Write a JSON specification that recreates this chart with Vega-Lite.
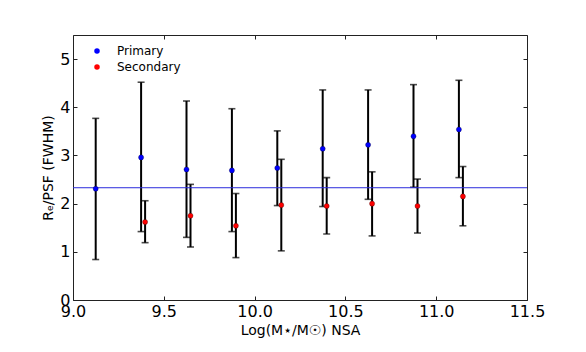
{
  "$schema": "https://vega.github.io/schema/vega-lite/v6.json",
  "width": 454,
  "height": 265,
  "autosize": "none",
  "padding": {"left": 73, "top": 35, "right": 59, "bottom": 52},
  "background": "white",
  "config": {
    "view": {"stroke": "#222222", "strokeWidth": 1},
    "font": "DejaVu Sans",
    "axis": {
      "grid": false,
      "domain": false,
      "tickColor": "#222222",
      "tickSize": -4,
      "labelFlush": false,
      "labelColor": "#000000",
      "labelFont": "DejaVu Sans",
      "labelFontSize": 16,
      "titleFont": "DejaVu Sans",
      "titleFontSize": 14,
      "titleFontWeight": "normal",
      "titleColor": "#000000"
    }
  },
  "data": {
    "values": [
      {"x": 9.125, "y": 2.31, "lo": 0.84, "hi": 3.77, "group": "Primary"},
      {"x": 9.375, "y": 2.96, "lo": 1.42, "hi": 4.52, "group": "Primary"},
      {"x": 9.625, "y": 2.71, "lo": 1.30, "hi": 4.13, "group": "Primary"},
      {"x": 9.875, "y": 2.69, "lo": 1.42, "hi": 3.97, "group": "Primary"},
      {"x": 10.125, "y": 2.74, "lo": 1.96, "hi": 3.51, "group": "Primary"},
      {"x": 10.375, "y": 3.14, "lo": 1.94, "hi": 4.36, "group": "Primary"},
      {"x": 10.625, "y": 3.22, "lo": 2.09, "hi": 4.36, "group": "Primary"},
      {"x": 10.875, "y": 3.40, "lo": 2.34, "hi": 4.47, "group": "Primary"},
      {"x": 11.125, "y": 3.54, "lo": 2.54, "hi": 4.56, "group": "Primary"},
      {"x": 9.397, "y": 1.62, "lo": 1.19, "hi": 2.06, "group": "Secondary"},
      {"x": 9.647, "y": 1.75, "lo": 1.10, "hi": 2.40, "group": "Secondary"},
      {"x": 9.897, "y": 1.54, "lo": 0.88, "hi": 2.21, "group": "Secondary"},
      {"x": 10.147, "y": 1.97, "lo": 1.02, "hi": 2.92, "group": "Secondary"},
      {"x": 10.397, "y": 1.95, "lo": 1.37, "hi": 2.54, "group": "Secondary"},
      {"x": 10.647, "y": 2.00, "lo": 1.33, "hi": 2.66, "group": "Secondary"},
      {"x": 10.897, "y": 1.95, "lo": 1.39, "hi": 2.51, "group": "Secondary"},
      {"x": 11.147, "y": 2.15, "lo": 1.54, "hi": 2.77, "group": "Secondary"}
    ]
  },
  "resolve": {"axis": {"x": "independent", "y": "independent"}},
  "layer": [
    {
      "layer": [
        {
          "mark": {"type": "rule", "color": "#000000", "strokeWidth": 2},
          "encoding": {
            "x": {
              "field": "x",
              "type": "quantitative",
              "scale": {"domain": [9, 11.5], "nice": false, "zero": false},
              "axis": {"values": [9, 9.5, 10, 10.5, 11, 11.5], "format": ".1f", "title": "Log(M⋆/M☉) NSA", "labelPadding": 7, "titlePadding": 4}
            },
            "y": {"field": "lo", "type": "quantitative", "scale": {"domain": [0, 5.5], "nice": false}, "axis": {"values": [0, 1, 2, 3, 4, 5], "format": "d", "title": "Rₑ/PSF (FWHM)", "labelPadding": 7, "titlePadding": 4}},
            "y2": {"field": "hi"}
          }
        },
        {
          "mark": {"type": "tick", "orient": "horizontal", "color": "#000000", "size": 7, "thickness": 1.6},
          "encoding": {"x": {"field": "x", "type": "quantitative"}, "y": {"field": "hi", "type": "quantitative"}}
        },
        {
          "mark": {"type": "tick", "orient": "horizontal", "color": "#000000", "size": 7, "thickness": 1.6},
          "encoding": {"x": {"field": "x", "type": "quantitative"}, "y": {"field": "lo", "type": "quantitative"}}
        },
        {
          "data": {"values": [{"level": 2.33}]},
          "mark": {"type": "rule", "color": "#2b2bdc", "strokeWidth": 1},
          "encoding": {"y": {"field": "level", "type": "quantitative"}, "x": {"value": 0}, "x2": {"value": 454}}
        },
        {
          "mark": {"type": "point", "filled": true, "size": 26, "opacity": 1, "stroke": "#000000", "strokeWidth": 0.3},
          "encoding": {
            "x": {"field": "x", "type": "quantitative"},
            "y": {"field": "y", "type": "quantitative"},
            "color": {
              "field": "group",
              "type": "nominal",
              "scale": {"domain": ["Primary", "Secondary"], "range": ["#0000ff", "#ff0000"]},
              "legend": {
                "title": null,
                "orient": "none",
                "legendX": 18,
                "legendY": 10,
                "symbolType": "circle",
                "symbolSize": 30,
                "symbolStrokeWidth": 0,
                "labelFontSize": 12,
                "labelFont": "DejaVu Sans",
                "labelOffset": 14,
                "rowPadding": 4,
                "labelColor": "#000000"
              }
            }
          }
        }
      ]
    },
    {
      "mark": {"type": "point", "opacity": 0},
      "encoding": {
        "x": {"field": "x", "type": "quantitative", "axis": {"orient": "top", "values": [9, 9.5, 10, 10.5, 11, 11.5], "labels": false, "title": null}},
        "y": {"field": "y", "type": "quantitative", "axis": {"orient": "right", "values": [0, 1, 2, 3, 4, 5], "labels": false, "title": null}}
      }
    }
  ]
}
